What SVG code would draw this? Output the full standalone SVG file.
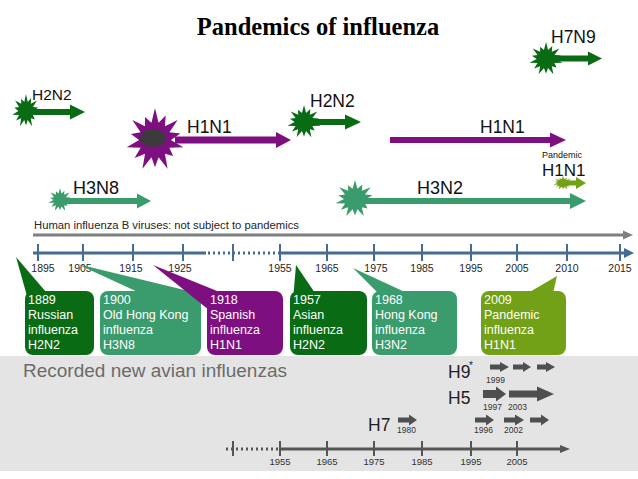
<svg xmlns="http://www.w3.org/2000/svg" xmlns:xlink="http://www.w3.org/1999/xlink" width="638" height="479" viewBox="0 0 638 479">
<style>
.t{font-family:"Liberation Sans",Arial,sans-serif}
.title{font-family:"Liberation Serif","Times New Roman",serif;font-weight:bold;font-size:24.5px;fill:#000}
.lab{font-family:"Liberation Sans",Arial,sans-serif;font-size:17.5px;fill:#111}
.yr{font-family:"Liberation Sans",Arial,sans-serif;font-size:10.5px;fill:#262626;text-anchor:middle}
.yr2{font-family:"Liberation Sans",Arial,sans-serif;font-size:9.5px;fill:#333;text-anchor:middle}
.box{font-family:"Liberation Sans",Arial,sans-serif;font-size:12.5px;fill:#fff}
.sm{font-family:"Liberation Sans",Arial,sans-serif;font-size:8.5px;fill:#333}
.av{font-family:"Liberation Sans",Arial,sans-serif;font-size:17.5px;fill:#222}
.dg{fill:#0a6b15}.mg{fill:#3a9b6c}.pu{fill:#7e0f80}.ol{fill:#72a016}.gr{fill:#4f4f4f}
.ax{stroke:#456a94;stroke-width:3;fill:none}
.tk{stroke:#456a94;stroke-width:2}
.bax{stroke:#555;stroke-width:3;fill:none}
.btk{stroke:#555;stroke-width:2}
</style>
<defs>
<polygon id="star" points="0,-1 0.122,-0.536 0.369,-0.766 0.343,-0.43 0.782,-0.623 0.496,-0.239 0.877,-0.2 0.55,0 0.975,0.223 0.496,0.239 0.625,0.499 0.343,0.43 0.434,0.901 0.122,0.536 0,0.85 -0.122,0.536 -0.434,0.901 -0.343,0.43 -0.704,0.561 -0.496,0.239 -0.975,0.223 -0.55,0 -0.829,-0.189 -0.496,-0.239 -0.782,-0.623 -0.343,-0.43 -0.347,-0.721 -0.122,-0.536"/>
</defs>
<rect x="0" y="0" width="638" height="479" fill="#fff"/>
<rect x="0" y="356" width="638" height="115" fill="#e4e4e4"/>
<text class="title" x="318" y="35" text-anchor="middle">Pandemics of influenza</text>

<g id="timelines">
<g id="h2n2-1889">
<polygon class="dg" points="28,109 70,109 70,104.5 85,112 70,119.5 70,115 28,115"/>
<use xlink:href="#star" class="dg" transform="translate(26,111) scale(14,17)"/>
<text class="lab" x="32" y="100" style="font-size:15.5px">H2N2</text>
</g>
<g id="h1n1-1918">
<polygon class="pu" points="175,136.5 276,136.5 276,132 291,140 276,148 276,143.5 175,143.5"/>
<use xlink:href="#star" class="pu" transform="translate(155,140) scale(29,32)"/>
<ellipse cx="153" cy="138" rx="13" ry="9" fill="#3c3a3c"/>
<text class="lab" x="187" y="133">H1N1</text>
</g>
<g id="h2n2-1957">
<polygon class="dg" points="310,119 345,119 345,114.5 361,122 345,129.5 345,125 310,125"/>
<use xlink:href="#star" class="dg" transform="translate(304,122) scale(17,17)"/>
<text class="lab" x="310" y="107">H2N2</text>
</g>
<g id="h1n1-1977">
<polygon class="pu" points="390,137 550,137 550,132.5 566,140 550,147.5 550,143 390,143"/>
<text class="lab" x="480" y="133">H1N1</text>
</g>
<g id="h7n9">
<polygon class="dg" points="555,55.5 588,55.5 588,51.5 602,58.5 588,65.5 588,61.5 555,61.5"/>
<use xlink:href="#star" class="dg" transform="translate(546,59) scale(17,17)"/>
<text class="lab" x="551" y="43">H7N9</text>
</g>
<g id="h1n1-2009">
<polygon class="ol" points="565,180.5 576,180.5 576,177 586,183 576,189 576,185.5 565,185.5"/>
<use xlink:href="#star" class="ol" transform="translate(563,183) scale(10,7)"/>
<text class="t" x="542" y="158" style="font-size:9px;fill:#111">Pandemic</text>
<text class="lab" x="542" y="176" style="font-size:17px">H1N1</text>
</g>
<g id="h3n2">
<polygon class="mg" points="365,198 570,198 570,193 586,201 570,209 570,204 365,204"/>
<use xlink:href="#star" class="mg" transform="translate(355,199) scale(20,19)"/>
<text class="lab" x="417" y="194" style="font-size:18px">H3N2</text>
</g>
<g id="h3n8">
<polygon class="mg" points="62,198 137,198 137,193.5 151,201 137,208.5 137,204 62,204"/>
<use xlink:href="#star" class="mg" transform="translate(60,200) scale(12,12)"/>
<text class="lab" x="73" y="194" style="font-size:18px">H3N8</text>
</g>
</g>

<g id="axes">
<text class="t" x="34" y="229" style="font-size:10px;fill:#262626" textLength="265" lengthAdjust="spacingAndGlyphs">Human influenza B viruses: not subject to pandemics</text>
<line x1="33" y1="235" x2="625" y2="235" stroke="#7f7f7f" stroke-width="3"/>
<polygon points="623,230.5 633,235 623,239.5" fill="#7f7f7f"/>

<line class="ax" x1="33" y1="253" x2="206" y2="253"/>
<line class="ax" x1="208" y1="253" x2="278" y2="253" stroke-dasharray="2,3"/>
<line class="ax" x1="278" y1="253" x2="626" y2="253"/>
<polygon points="624,248 634,253 624,258" fill="#456a94"/>
<g class="tk">
<line x1="38" y1="244" x2="38" y2="261"/><line x1="83" y1="244" x2="83" y2="261"/>
<line x1="133" y1="244" x2="133" y2="261"/><line x1="183" y1="244" x2="183" y2="261"/>
<line x1="233" y1="244" x2="233" y2="261"/><line x1="280" y1="244" x2="280" y2="261"/>
<line x1="327" y1="244" x2="327" y2="261"/><line x1="374" y1="244" x2="374" y2="261"/>
<line x1="422" y1="244" x2="422" y2="261"/><line x1="471" y1="244" x2="471" y2="261"/>
<line x1="517" y1="244" x2="517" y2="261"/><line x1="567" y1="244" x2="567" y2="261"/>
<line x1="620" y1="244" x2="620" y2="261"/>
</g>
<text class="yr" x="43" y="272">1895</text><text class="yr" x="80" y="272">1905</text>
<text class="yr" x="131" y="272">1915</text><text class="yr" x="180" y="272">1925</text>
<text class="yr" x="280" y="272">1955</text><text class="yr" x="327" y="272">1965</text>
<text class="yr" x="376" y="272">1975</text><text class="yr" x="422" y="272">1985</text>
<text class="yr" x="471" y="272">1995</text><text class="yr" x="517" y="272">2005</text>
<text class="yr" x="567" y="272">2010</text><text class="yr" x="620" y="272">2015</text>
</g>

<g id="callout-1889">
<polygon class="dg" points="16,257 27,296 46,292"/>
<rect class="dg" x="25" y="291" width="69" height="64" rx="8"/>
<text class="box" x="28" y="304">1889</text><text class="box" x="28" y="319">Russian</text>
<text class="box" x="28" y="334">influenza</text><text class="box" x="28" y="349">H2N2</text>
</g>
<g id="callout-1900">
<polygon class="mg" points="77,264 140,293 197,293"/>
<rect class="mg" x="100" y="291" width="101" height="64" rx="8"/>
<text class="box" x="103" y="304">1900</text><text class="box" x="103" y="319">Old Hong Kong</text>
<text class="box" x="103" y="334">influenza</text><text class="box" x="103" y="349">H3N8</text>
</g>
<g id="callout-1918">
<polygon class="pu" points="153,265 209,310 222,293"/>
<rect class="pu" x="207" y="291" width="76" height="64" rx="8"/>
<text class="box" x="210" y="304">1918</text><text class="box" x="210" y="319">Spanish</text>
<text class="box" x="210" y="334">influenza</text><text class="box" x="210" y="349">H1N1</text>
</g>
<g id="callout-1957">
<polygon class="dg" points="296,265 293,300 315,293"/>
<rect class="dg" x="290" y="291" width="77" height="64" rx="8"/>
<text class="box" x="293" y="304">1957</text><text class="box" x="293" y="319">Asian</text>
<text class="box" x="293" y="334">influenza</text><text class="box" x="293" y="349">H2N2</text>
</g>
<g id="callout-1968">
<polygon class="mg" points="353,268 378,293 407,293"/>
<rect class="mg" x="372" y="291" width="85" height="64" rx="8"/>
<text class="box" x="375" y="304">1968</text><text class="box" x="375" y="319">Hong Kong</text>
<text class="box" x="375" y="334">influenza</text><text class="box" x="375" y="349">H3N2</text>
</g>
<g id="callout-2009">
<polygon class="ol" points="557,276 528,293 553,293"/>
<rect class="ol" x="481" y="291" width="85" height="64" rx="8"/>
<text class="box" x="484" y="304">2009</text><text class="box" x="484" y="319">Pandemic</text>
<text class="box" x="484" y="334">influenza</text><text class="box" x="484" y="349">H1N1</text>
</g>

<g id="avian">
<text class="t" x="23" y="377" style="font-size:17.5px;fill:#6b6b6b" textLength="264" lengthAdjust="spacingAndGlyphs">Recorded new avian influenzas</text>
<text class="av" x="448" y="378">H9</text><text class="t" x="469" y="369" style="font-size:10px;fill:#222">*</text>
<text class="av" x="448" y="404">H5</text>
<text class="av" x="368" y="431">H7</text>
<polygon class="gr" points="490,364.5 500,364.5 500,362 509,367 500,372 500,369.5 490,369.5"/>
<polygon class="gr" points="513,364.5 523,364.5 523,362 531,367 523,372 523,369.5 513,369.5"/>
<polygon class="gr" points="537,364.5 546,364.5 546,362 555,367 546,372 546,369.5 537,369.5"/>
<polygon class="gr" points="483,390 496,390 496,386.5 506,394 496,401.5 496,398 483,398"/>
<polygon class="gr" points="509,390.5 537,390.5 537,386.5 554,394 537,401.5 537,397.5 509,397.5"/>
<polygon class="gr" points="398,417.5 409,417.5 409,414.5 417,420 409,425.5 409,422.5 398,422.5"/>
<polygon class="gr" points="475,417.5 486,417.5 486,414.5 494,420 486,425.5 486,422.5 475,422.5"/>
<polygon class="gr" points="504,417.5 515,417.5 515,414.5 524,420 515,425.5 515,422.5 504,422.5"/>
<polygon class="gr" points="530,417.5 541,417.5 541,414.5 549,420 541,425.5 541,422.5 530,422.5"/>
<text class="sm" x="486" y="383">1999</text>
<text class="sm" x="483" y="410">1997</text><text class="sm" x="508" y="410">2003</text>
<text class="sm" x="397" y="433">1980</text>
<text class="sm" x="474" y="433">1996</text><text class="sm" x="504" y="433">2002</text>

<line class="bax" x1="226" y1="449" x2="279" y2="449" stroke-dasharray="2,3"/>
<line class="bax" x1="279" y1="449" x2="562" y2="449"/>
<polygon points="560,445 570,449 560,453" fill="#555"/>
<g class="btk">
<line x1="233" y1="441" x2="233" y2="456"/><line x1="280" y1="441" x2="280" y2="456"/>
<line x1="327" y1="441" x2="327" y2="456"/><line x1="374" y1="441" x2="374" y2="456"/>
<line x1="422" y1="441" x2="422" y2="456"/><line x1="471" y1="441" x2="471" y2="456"/>
<line x1="517" y1="441" x2="517" y2="456"/>
</g>
<text class="yr2" x="280" y="465">1955</text><text class="yr2" x="327" y="465">1965</text>
<text class="yr2" x="374" y="465">1975</text><text class="yr2" x="422" y="465">1985</text>
<text class="yr2" x="471" y="465">1995</text><text class="yr2" x="517" y="465">2005</text>
</g>
</svg>
